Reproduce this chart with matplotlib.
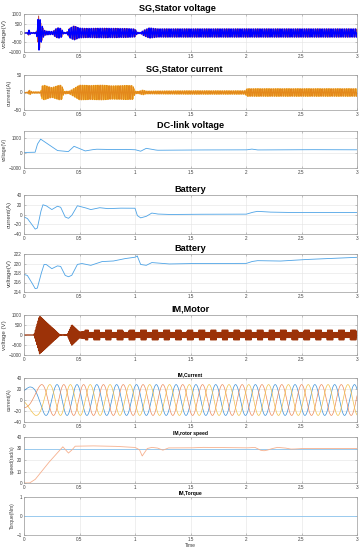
import numpy as np
import matplotlib
matplotlib.use("Agg")
import matplotlib.pyplot as plt

plt.rcParams['font.family'] = ['Liberation Sans', 'DejaVu Sans']

# ---- data ------------------------------------------------------------
time = np.linspace(0, 3, 15001)
xtick_vals = [0, 0.5, 1, 1.5, 2, 2.5, 3]
xtick_labels = ['0', '0.5', '1', '1.5', '2', '2.5', '3']

# SG stator voltage: envelope knots (V) and carrier frequency (Hz)
sgv_t = [0, 0.02, 0.03, 0.045, 0.06, 0.07, 0.11, 0.12, 0.128, 0.138, 0.15,
         0.18, 0.2, 0.26, 0.28, 0.31, 0.34, 0.35, 0.37, 0.39, 0.41, 0.45, 0.5,
         0.55, 0.7, 0.85, 0.95, 1.0, 1.02, 1.05, 1.08, 1.13, 1.17, 1.2, 1.3,
         2.0, 3.0]
sgv_a = [0, 0, 30, 150, 30, 20, 40, 300, 900, 900, 550, 150, 100, 80, 200,
         280, 220, 60, 20, 60, 250, 370, 260, 240, 250, 240, 230, 210, 40, 30,
         150, 270, 240, 220, 220, 220, 220]
sg_freq = 50

# SG stator current envelope (A)
sgi_t = [0, 0.03, 0.05, 0.07, 0.15, 0.16, 0.18, 0.25, 0.32, 0.34, 0.36, 0.38,
         0.4, 0.42, 0.5, 0.6, 0.7, 0.8, 0.9, 0.98, 1.0, 1.03, 1.07, 1.1, 1.5,
         1.99, 2.01, 3.0]
sgi_a = [0, 1, 7, 2, 2, 18, 21, 14, 21, 20, 3, 4, 3, 6, 21, 20, 21, 19, 20,
         20, 4, 3, 7, 4, 5, 5, 11, 11]

# DC-link voltage (V)
dc_t = [0, 0.1, 0.12, 0.15, 0.22, 0.3, 0.35, 0.4, 0.45, 0.5, 0.55, 0.6, 0.65,
        0.8, 0.9, 1.0, 1.05, 1.1, 1.15, 1.2, 1.5, 2.0, 2.05, 2.1, 2.5, 3.0]
dc_v = [50, 60, 600, 950, 600, 180, 140, 110, 470, 320, 150, 220, 270, 240,
        260, 240, 130, 330, 260, 200, 220, 220, 280, 220, 240, 230]

# Battery current (A)
bi_t = [0, 0.03, 0.07, 0.1, 0.12, 0.15, 0.17, 0.2, 0.25, 0.3, 0.33, 0.37, 0.4,
        0.43, 0.48, 0.55, 0.6, 0.68, 0.75, 0.85, 1.0, 1.02, 1.05, 1.1, 1.15,
        1.2, 1.3, 1.5, 2.0, 2.05, 2.1, 2.2, 2.4, 3.0]
bi_v = [-5, -8, -20, -30, -28, 5, 20, 18, 10, 17, 15, -5, -8, -2, 18, 14, 10,
        14, 12, 13, 13, -2, -7, -4, 3, 1, 0, 0.5, 0.5, 4, 6.5, 5, 4, 4]

# Battery voltage (V)
bv_t = [0, 0.03, 0.07, 0.1, 0.12, 0.15, 0.18, 0.2, 0.25, 0.3, 0.33, 0.37, 0.4,
        0.43, 0.48, 0.52, 0.6, 0.7, 0.8, 0.9, 1.0, 1.02, 1.05, 1.1, 1.15, 1.2,
        1.3, 1.5, 2.0, 2.05, 2.1, 2.3, 2.5, 3.0]
bv_v = [217.7, 217.5, 216.0, 214.7, 214.8, 217.5, 219.8, 219.8, 218.9, 219.5,
        219.4, 217.5, 217.2, 217.5, 219.8, 220.0, 219.6, 220.4, 220.5, 221.0,
        221.3, 221.6, 219.8, 219.6, 220.2, 220.1, 219.9, 220.0, 220.0, 220.4,
        220.6, 220.5, 220.8, 221.3]

# IM motor voltage envelope (V), block modulation after 0.55 s
imv_t = [0, 0.09, 0.1, 0.14, 0.32, 0.34, 0.39, 0.43, 0.5, 0.55, 3.0]
imv_a = [5, 5, 200, 950, 30, 10, 20, 520, 150, 190, 190]
imv_block_period = 0.105
imv_block_depth = 60
imv_freq = 120

# IM current: amplitude (A) and stator frequency knots (Hz)
imi_t = [0, 0.05, 0.1, 3.0]
imi_a = [18, 24, 28, 28]
imf_t = [0, 0.1, 0.2, 0.35, 3.0]
imf_f = [1.5, 2.5, 4.8, 5.6, 5.6]

# IM rotor speed (rad/s): reference and measured
spd_ref = 30
spd_t = [0, 0.05, 0.1, 0.17, 0.22, 0.28, 0.35, 0.4, 0.43, 0.46, 0.6, 0.8, 1.0,
         1.04, 1.065, 1.11, 1.15, 1.2, 1.25, 1.3, 1.5, 1.6, 2.0, 2.08, 2.13,
         2.16, 2.19, 2.22, 2.28, 2.35, 2.4, 2.43, 2.5, 3.0]
spd_v = [0, 0, 3, 11.5, 17.5, 24, 31.5, 26, 28.5, 32, 32.3, 32, 31, 29, 23.5,
         30, 31, 30.5, 28.5, 30.5, 30.5, 31, 30.5, 31, 28.5, 28, 28.5, 29.5,
         31, 30.5, 29.5, 29.5, 30, 30]

# IM torque (Nm)
trq_v = 0

# ---- figure ------------------------------------------------------------
W, H = 363, 550
fig = plt.figure(figsize=(W / 100, H / 100), dpi=100)

# (top, bottom) of each axes in pixels
boxes = [(14, 52), (75, 110), (131, 168), (195, 234), (254, 292),
         (315, 355), (378, 422), (437, 483), (497, 535)]
left, right = 24, 357
axes = []
for top, bot in boxes:
    ax = fig.add_axes([left / W, 1 - bot / H, (right - left) / W, (bot - top) / H])
    axes.append(ax)

grey = '#404040'


def style(ax, yticks, ylim, ylabel, ylsize=3.6):
    ax.set_xlim(0, 3)
    ax.set_ylim(*ylim)
    ax.set_xticks(xtick_vals)
    ax.set_xticklabels(xtick_labels)
    ax.set_yticks(yticks)
    ax.grid(True, color='#e3e3e3', lw=0.4)
    ax.set_axisbelow(True)
    for s in ax.spines.values():
        s.set_color('#9a9a9a')
        s.set_linewidth(0.5)
    ax.tick_params(labelsize=3.3, length=1.5, width=0.4, direction='in',
                   colors='#9a9a9a', labelcolor=grey, pad=1.5,
                   top=True, right=True)
    ax.set_ylabel(ylabel, fontsize=ylsize, color=grey, labelpad=1.5)


def big_title(ax, text, x=0.5):
    ax.set_title(text, fontsize=6.6, fontweight='bold', x=x, pad=2.5)


def small_title(ax, text):
    ax.set_title(text, fontsize=3.6, fontweight='bold', pad=1.2)


# 1 SG stator voltage
ax = axes[0]
va = np.interp(time, sgv_t, sgv_a)
ph = 2 * np.pi * sg_freq * time
ax.plot(time, va * np.sin(ph - 2 * np.pi / 3), color='#c0504d', lw=0.6)
ax.plot(time, va * np.sin(ph), color='#0000ff', lw=0.9)
style(ax, [-1000, -500, 0, 500, 1000], (-1000, 1000), 'voltage(V)', 4.6)
big_title(ax, 'SG,Stator voltage', x=0.46)

# 2 SG stator current
ax = axes[1]
ia = np.interp(time, sgi_t, sgi_a)
ax.plot(time, ia * np.sin(ph - 2 * np.pi / 3), color='#f2b730', lw=0.7)
ax.plot(time, ia * np.sin(ph), color='#e3881c', lw=0.8)
style(ax, [-50, 0, 50], (-50, 50), 'current(A)', 4.2)
big_title(ax, 'SG,Stator current', x=0.48)

# 3 DC-link voltage
ax = axes[2]
ax.plot(time, np.interp(time, dc_t, dc_v), color='#4da3e6', lw=0.6)
style(ax, [-1000, 0, 1000], (-1000, 1500), 'voltage(V)')
big_title(ax, 'DC-link voltage')

# 4 Battery current
ax = axes[3]
ax.plot(time, np.interp(time, bi_t, bi_v), color='#4da3e6', lw=0.6)
style(ax, [-40, -20, 0, 20, 40], (-40, 40), 'current(A)', 4.4)
big_title(ax, 'Battery')

# 5 Battery voltage
ax = axes[4]
ax.plot(time, np.interp(time, bv_t, bv_v), color='#4da3e6', lw=0.6)
style(ax, [214, 216, 218, 220, 222], (214, 222), 'voltage(V)', 4.4)
big_title(ax, 'Battery')

# 6 IM motor voltage
ax = axes[5]
ma = np.interp(time, imv_t, imv_a)
blocks = np.where(time > imv_t[-2],
                  np.sign(np.sin(2 * np.pi * time / imv_block_period)) * imv_block_depth, 0)
ma = ma + blocks
mph = 2 * np.pi * imv_freq * time
ax.plot(time, ma * np.sign(np.sin(mph)) * np.abs(np.sin(mph)) ** 0.3,
        color='#9c3208', lw=0.8)
style(ax, [-1000, -500, 0, 500, 1000], (-1000, 1000), 'voltage (V)', 4.4)
big_title(ax, 'IM,Motor')

# 7 IM current
ax = axes[6]
amp = np.interp(time, imi_t, imi_a)
freq = np.interp(time, imf_t, imf_f)
theta = 2 * np.pi * np.concatenate([[0], np.cumsum(freq[1:] * np.diff(time))])
for k, c in zip(range(3), ['#3a8fd6', '#ec8a5c', '#f2c04a']):
    ax.plot(time, amp * np.sin(theta - 2 * np.pi * k / 3 + 1.2), color=c, lw=0.5)
style(ax, [-40, -20, 0, 20, 40], (-40, 40), 'current(A)')
small_title(ax, 'IM,Current')

# 8 IM rotor speed
ax = axes[7]
ax.axhline(spd_ref, color='#8cc4ee', lw=0.6)
ax.plot(time, np.interp(time, spd_t, spd_v), color='#f6b08e', lw=0.6)
style(ax, [0, 10, 20, 30, 40], (0, 40), 'speed(rad/s)')
small_title(ax, 'IM,rotor speed')

# 9 IM torque
ax = axes[8]
ax.axhline(trq_v, color='#8cc4ee', lw=0.6)
style(ax, [-1, 0, 1], (-1, 1), 'Torque(Nm)')
small_title(ax, 'IM,Torque')
ax.set_xlabel('Time', fontsize=3.6, color=grey, labelpad=1)

fig.savefig('out.png', dpi=100)
